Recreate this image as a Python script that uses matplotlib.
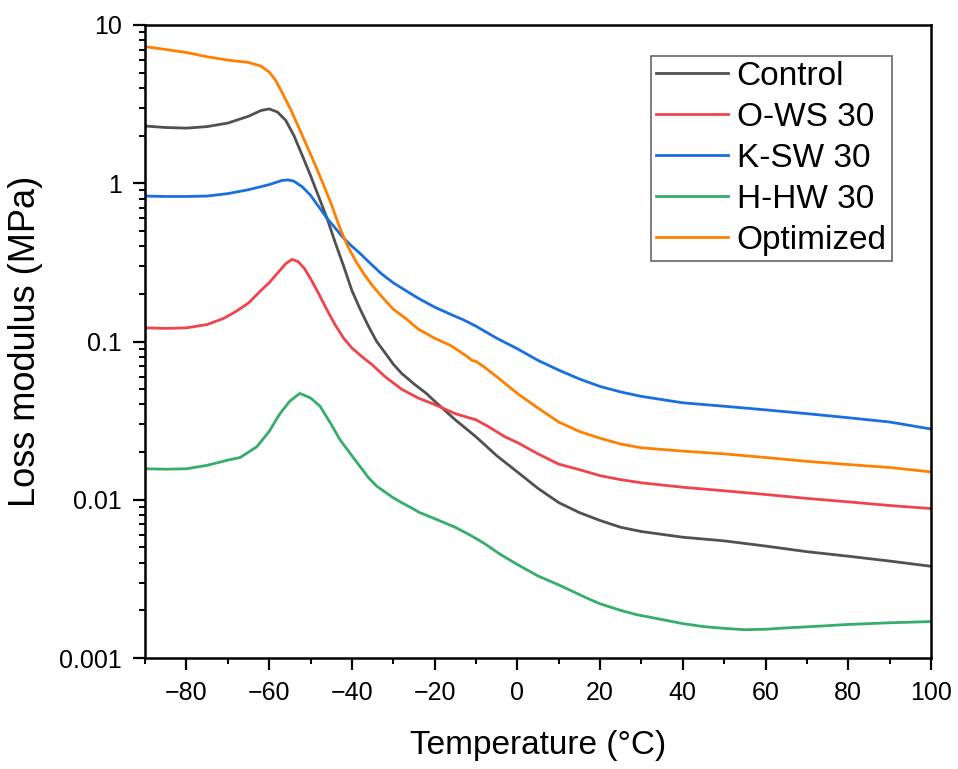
import numpy as np
import matplotlib
matplotlib.use("Agg")
import matplotlib.pyplot as plt
from matplotlib.ticker import FixedLocator, FuncFormatter, MultipleLocator, LogLocator

plt.rcParams['font.family'] = ['Liberation Sans', 'DejaVu Sans']

# Control
t_control = [-90, -85, -80, -75, -70, -65, -62, -60, -58, -56, -54, -52, -50, -48, -46, -44,
             -42, -40, -38, -36, -34, -32, -30, -28, -25, -22, -20, -15, -10, -5, 0, 5, 10,
             15, 20, 25, 30, 40, 50, 60, 70, 80, 90, 100]
g_control = [2.3, 2.25, 2.23, 2.28, 2.4, 2.65, 2.88, 2.95, 2.82, 2.5, 2.0, 1.5, 1.12, 0.82,
             0.6, 0.42, 0.3, 0.21, 0.16, 0.125, 0.1, 0.085, 0.072, 0.063, 0.054, 0.047, 0.042,
             0.032, 0.025, 0.019, 0.015, 0.0118, 0.0096, 0.0083, 0.0074, 0.0067, 0.0063,
             0.0058, 0.0055, 0.0051, 0.0047, 0.0044, 0.0041, 0.0038]

# O-WS 30
t_ows = [-90, -85, -80, -75, -71, -68, -65, -62, -60, -58, -56, -54.5, -53, -51.5, -50, -48,
         -46, -44, -42, -40, -37, -35, -32, -28, -24, -20, -15, -10, -7, -3, 0, 5, 10, 15,
         20, 25, 30, 40, 50, 60, 70, 80, 90, 100]
g_ows = [0.122, 0.121, 0.122, 0.128, 0.14, 0.155, 0.175, 0.21, 0.235, 0.27, 0.31, 0.33,
         0.32, 0.29, 0.25, 0.2, 0.158, 0.127, 0.105, 0.091, 0.078, 0.071, 0.06, 0.05, 0.044,
         0.04, 0.035, 0.032, 0.029, 0.025, 0.023, 0.0195, 0.0168, 0.0155, 0.0142, 0.0134,
         0.0128, 0.012, 0.0114, 0.0108, 0.0102, 0.0097, 0.0092, 0.0088]

# K-SW 30
t_ksw = [-90, -85, -80, -75, -70, -65, -60, -57, -55.5, -54, -52, -50, -48, -46, -44, -42,
         -40, -38, -36, -33, -30, -27, -24, -20, -16, -13, -10, -5, 0, 5, 10, 15, 20, 25, 30,
         40, 50, 60, 70, 80, 90, 100]
g_ksw = [0.83, 0.825, 0.825, 0.83, 0.86, 0.91, 0.98, 1.04, 1.05, 1.03, 0.95, 0.84, 0.71, 0.6,
         0.52, 0.45, 0.4, 0.36, 0.32, 0.27, 0.235, 0.21, 0.188, 0.165, 0.148, 0.137, 0.125,
         0.105, 0.09, 0.076, 0.066, 0.058, 0.052, 0.048, 0.045, 0.041, 0.039, 0.037, 0.035,
         0.033, 0.031, 0.028]

# H-HW 30
t_hhw = [-90, -85, -80, -75, -70, -67, -63, -60, -57.4, -55, -52.6, -50, -47.7, -45, -42.9,
         -40, -38, -36, -34, -32, -30, -28, -26, -23.6, -20, -15, -11.5, -8, -4, 0, 5, 10,
         16.7, 20, 25, 28.8, 35, 40, 45, 50, 55, 60, 65, 73, 80, 90, 100]
g_hhw = [0.0157, 0.0156, 0.0157, 0.0165, 0.0178, 0.0185, 0.0216, 0.027, 0.035, 0.042, 0.047,
         0.044, 0.039, 0.03, 0.024, 0.019, 0.0162, 0.0138, 0.0122, 0.0112, 0.0103, 0.0096,
         0.009, 0.0083, 0.0076, 0.0067, 0.006, 0.0053, 0.0045, 0.0039, 0.0033, 0.0029,
         0.0024, 0.0022, 0.002, 0.00188, 0.00175, 0.00165, 0.00158, 0.00154, 0.00151,
         0.00152, 0.00155, 0.00159, 0.00163, 0.00167, 0.0017]

# Optimized
t_opt = [-90, -85, -80, -75, -70, -65, -62, -60, -58.5, -57, -55, -53, -51, -49, -47, -45,
         -43, -41, -39, -37, -35, -33, -30, -27, -24, -20, -16, -12, -11, -10, -8, -5, 0,
         5, 10, 15, 20, 25, 30, 40, 50, 60, 70, 80, 90, 100]
g_opt = [7.3, 7.0, 6.7, 6.3, 6.0, 5.8, 5.5, 5.05, 4.5, 3.8, 3.0, 2.3, 1.75, 1.33, 1.0, 0.74,
         0.53, 0.4, 0.32, 0.265, 0.225, 0.195, 0.16, 0.14, 0.12, 0.105, 0.094, 0.08, 0.076,
         0.075, 0.069, 0.06, 0.047, 0.038, 0.031, 0.027, 0.0245, 0.0225, 0.0213, 0.0203,
         0.0195, 0.0185, 0.0175, 0.0167, 0.016, 0.015]

series = [
    ("Control", t_control, g_control, "#515151"),
    ("O-WS 30", t_ows, g_ows, "#F0434B"),
    ("K-SW 30", t_ksw, g_ksw, "#1A6FDF"),
    ("H-HW 30", t_hhw, g_hhw, "#37AD6B"),
    ("Optimized", t_opt, g_opt, "#FF8000"),
]

fig = plt.figure(figsize=(9.58, 7.69), dpi=100)
ax = fig.add_axes([0.1514, 0.1443, 0.8204, 0.8232])

for name, t, g, c in series:
    ax.plot(t, g, color=c, lw=2.0, label=name)

ax.set_yscale("log")
ax.set_xlim(-90, 100)
ax.set_ylim(0.001, 10)

ax.xaxis.set_major_locator(FixedLocator([-80, -60, -40, -20, 0, 20, 40, 60, 80, 100]))
ax.xaxis.set_minor_locator(MultipleLocator(10))
ax.yaxis.set_major_locator(FixedLocator([0.001, 0.01, 0.1, 1, 10]))
ax.yaxis.set_major_formatter(FuncFormatter(lambda v, p: "{:g}".format(v)))
ax.yaxis.set_minor_locator(LogLocator(base=10, subs=np.arange(2, 10)))

ax.tick_params(which="major", direction="out", length=8.5, width=1.6, labelsize=18,
               pad=8, top=False, right=False)
ax.tick_params(which="minor", direction="out", length=4.5, width=1.4,
               top=False, right=False)
for s in ax.spines.values():
    s.set_linewidth(1.8)

ax.set_xlabel("Temperature (°C)", fontsize=24, labelpad=18)
ax.set_ylabel("Loss modulus (MPa)", fontsize=26, labelpad=12)

leg = ax.legend(loc="upper right", bbox_to_anchor=(0.950, 0.951), fontsize=24,
                frameon=True, fancybox=False, edgecolor="#404040",
                handlelength=2.15, handletextpad=0.27, labelspacing=0.3,
                borderpad=0.15, borderaxespad=0)
leg.get_frame().set_linewidth(1.2)

fig.savefig("out.png", dpi=100)
